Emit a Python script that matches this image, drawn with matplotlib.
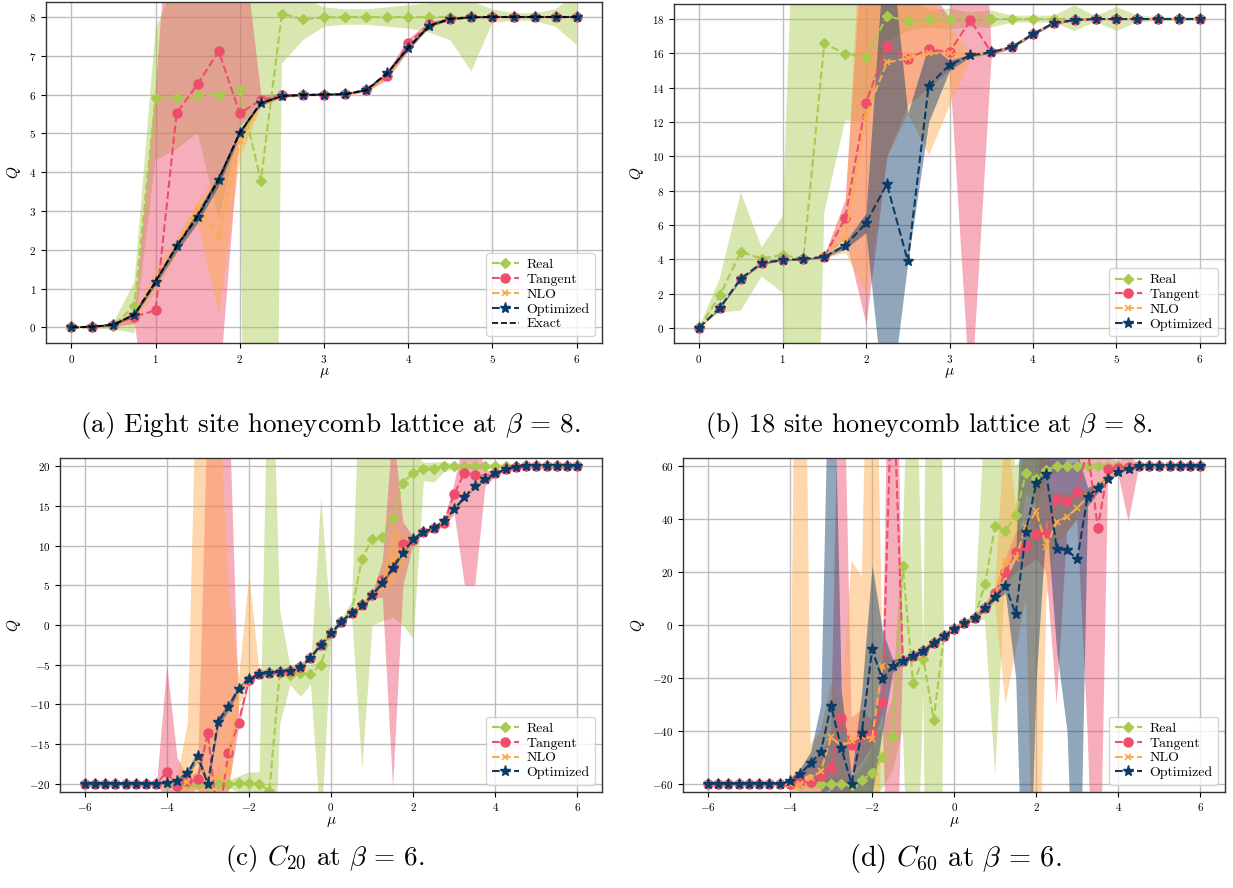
import numpy as np
import matplotlib
matplotlib.use('Agg')
import matplotlib.pyplot as plt

plt.rcParams.update({
    'font.family': 'serif', 'font.serif': ['cmr10'], 'mathtext.fontset': 'cm',
    'axes.unicode_minus': False, 'axes.formatter.use_mathtext': True,
})

# ---------------- data ----------------
mu_ab = [0, 0.25, 0.5, 0.75, 1, 1.25, 1.5, 1.75, 2, 2.25, 2.5, 2.75, 3, 3.25, 3.5, 3.75,
         4, 4.25, 4.5, 4.75, 5, 5.25, 5.5, 5.75, 6]
mu_cd = [-6, -5.75, -5.5, -5.25, -5, -4.75, -4.5, -4.25, -4, -3.75, -3.5, -3.25, -3, -2.75,
         -2.5, -2.25, -2, -1.75, -1.5, -1.25, -1, -0.75, -0.5, -0.25, 0, 0.25, 0.5, 0.75,
         1, 1.25, 1.5, 1.75, 2, 2.25, 2.5, 2.75, 3, 3.25, 3.5, 3.75, 4, 4.25, 4.5, 4.75,
         5, 5.25, 5.5, 5.75, 6]

# (a) eight site honeycomb
a_exact = [0, 0.02, 0.07, 0.33, 1.18, 2.09, 2.88, 3.82, 5.02, 5.78, 5.96, 5.99, 6.0, 6.01, 6.11, 6.55, 7.21, 7.78, 7.95, 7.99, 8, 8, 8, 8, 8]
a_real = [0, 0.01, 0.05, 0.56, 5.92, 5.92, 5.98, 6.0, 6.12, 3.78, 8.09, 7.94, 7.99, 8, 8, 8, 8, 8, 8, 8, 8, 8, 8, 8, 8]
a_real_lo = [-0.02, -0.03, -0.05, -0.15, 4.3, 4.6, 5.0, 2.8, 5.0, -40, 6.8, 7.4, 7.75, 7.8, 7.8, 7.75, 7.7, 7.6, 7.4, 6.6, 7.85, 7.9, 7.9, 7.75, 7.28]
a_real_hi = [0.02, 0.04, 0.12, 1.18, 7.68, 9.0, 8.9, 9.2, 9.0, 50, 9.4, 8.5, 8.25, 8.2, 8.2, 8.25, 8.3, 8.35, 8.4, 8.4, 8.2, 8.1, 8.1, 8.2, 8.6]
a_tan = [0, 0.02, 0.07, 0.28, 0.44, 5.52, 6.27, 7.12, 5.52, 5.86, 5.98, 5.99, 6.0, 6.01, 6.12, 6.48, 7.32, 7.82, 7.96, 8, 8, 8, 8, 8, 8]
a_tan_lo = [0, 0.0, 0.03, 0.1, -4, -4, -4, -1.6, 5.2, 5.7, 5.93, 5.97, 5.98, 5.99, 6.08, 6.38, 7.15, 7.74, 7.93, 7.98, 8, 8, 8, 8, 8]
a_tan_hi = [0, 0.04, 0.1, 0.45, 6.2, 13.8, 14, 14, 10.6, 6.0, 6.03, 6.01, 6.02, 6.03, 6.16, 6.6, 7.45, 7.88, 7.98, 8, 8, 8, 8, 8, 8]
a_nlo = [0, 0.02, 0.07, 0.33, 1.2, 2.1, 3.1, 2.35, 4.8, 5.8, 5.96, 6.0, 6.0, 6.01, 6.1, 6.5, 7.2, 7.8, 7.95, 8, 8, 8, 8, 8, 8]
a_nlo_lo = [0, 0.0, 0.04, 0.2, 0.9, 1.9, 2.68, 0.33, 4.4, 5.7, 5.93, 5.97, 5.98, 5.99, 6.06, 6.42, 7.12, 7.74, 7.92, 7.98, 8, 8, 8, 8, 8]
a_nlo_hi = [0, 0.04, 0.1, 0.45, 1.5, 2.3, 3.29, 3.97, 5.0, 5.86, 6.0, 6.02, 6.02, 6.03, 6.14, 6.58, 7.28, 7.84, 7.97, 8, 8, 8, 8, 8, 8]
a_opt = [0, 0.02, 0.07, 0.33, 1.18, 2.09, 2.84, 3.8, 5.02, 5.78, 5.97, 5.99, 6.0, 6.01, 6.12, 6.55, 7.2, 7.78, 7.95, 7.99, 8, 8, 8, 8, 8]
a_opt_lo = [0, 0.01, 0.05, 0.28, 1.1, 1.95, 2.7, 3.65, 4.95, 5.74, 5.95, 5.98, 5.99, 6.0, 6.09, 6.5, 7.15, 7.75, 7.93, 7.98, 8, 8, 8, 8, 8]
a_opt_hi = [0, 0.03, 0.09, 0.38, 1.26, 2.2, 3.0, 3.95, 5.1, 5.82, 5.99, 6.0, 6.01, 6.02, 6.14, 6.6, 7.26, 7.81, 7.97, 8, 8, 8, 8, 8, 8]

# (b) 18 site honeycomb
b_real = [0, 1.89, 4.43, 4.04, 4.24, 4.04, 16.58, 15.98, 15.76, 18.16, 17.9, 17.98, 18, 18.02, 18, 18, 18, 18, 18, 18, 18, 18, 18, 18, 18]
b_real_lo = [0, 0.9, 1.0, 3.0, 2.05, -40, 6.7, 12.1, 12.0, 16.7, 17.3, 17.5, 17.4, 17.5, 17.5, 17.8, 17.8, 17.8, 17.3, 17.85, 17.3, 17.8, 17.9, 17.9, 17.9]
b_real_hi = [0, 2.9, 7.9, 4.7, 6.5, 40, 40, 40, 25, 20, 19.5, 18.5, 18.6, 18.4, 18.5, 18.2, 18.2, 18.2, 18.8, 18.15, 18.7, 18.2, 18.1, 18.1, 18.1]
b_tan = [0, 1.17, 2.87, 3.77, 3.96, 4.0, 4.14, 6.39, 13.13, 16.45, 15.68, 16.25, 16.07, 17.93, 16.07, 16.37, 17.13, 17.77, 17.94, 18, 18, 18, 18, 18, 18]
b_tan_lo = [0, 1.12, 2.8, 3.7, 3.92, 3.97, 4.05, 5.3, 0.2, 10, 13, 14, 15, -4.5, 15.9, 16.3, 17.05, 17.7, 17.9, 17.98, 18, 18, 18, 18, 18]
b_tan_hi = [0, 1.22, 2.94, 3.84, 4.0, 4.03, 4.25, 7.5, 26, 30, 21, 20, 18, 40, 16.2, 16.44, 17.2, 17.84, 17.98, 18.02, 18, 18, 18, 18, 18]
b_nlo = [0, 1.17, 2.87, 3.77, 3.96, 4.0, 4.14, 5.2, 12.4, 15.47, 15.72, 16.0, 16.0, 15.88, 16.07, 16.37, 17.13, 17.77, 17.94, 18, 18, 18, 18, 18, 18]
b_nlo_lo = [0, 1.12, 2.8, 3.7, 3.92, 3.97, 4.05, 4.4, 2.0, 10, 12.5, 10.1, 13, 15.7, 16.0, 16.3, 17.05, 17.7, 17.9, 17.98, 18, 18, 18, 18, 18]
b_nlo_hi = [0, 1.22, 2.94, 3.84, 4.0, 4.03, 4.25, 7.0, 29.5, 30, 20.5, 19.3, 17.6, 16.1, 16.14, 16.44, 17.2, 17.84, 17.98, 18.02, 18, 18, 18, 18, 18]
b_opt = [0, 1.17, 2.87, 3.77, 3.96, 4.0, 4.14, 4.79, 6.11, 8.38, 3.9, 14.1, 15.33, 15.88, 16.07, 16.37, 17.13, 17.77, 17.94, 18, 18, 18, 18, 18, 18]
b_opt_lo = [0, 1.12, 2.8, 3.7, 3.92, 3.97, 4.08, 4.6, 5.55, -6, 3.8, 12.0, 15.0, 15.8, 16.0, 16.3, 17.05, 17.7, 17.9, 17.98, 18, 18, 18, 18, 18]
b_opt_hi = [0, 1.22, 2.94, 3.84, 4.0, 4.03, 4.2, 5.0, 6.7, 24.4, 12.5, 16.5, 15.6, 15.95, 16.14, 16.44, 17.2, 17.84, 17.98, 18.02, 18, 18, 18, 18, 18]

# (c) C20
c_real = [-20, -20, -20, -20, -20, -20, -20, -20, -20, -20.1, -20, -20, -20, -20, -20, -19.9, -19.9, -20, -20.9,
          -6.1, -6.3, -6.1, -6.2, -5.0, -1.05, 0.42, 1.55, 8.3, 10.8, 11.05, 13.45, 17.85, 19.2, 19.6, 19.7, 20.0,
          20, 20, 20, 20, 20, 20, 20, 20, 20, 20, 20, 20, 20]
c_real_lo = [-20, -20, -20, -20, -20, -20, -20, -20, -20.3, -20.5, -20.4, -20.5, -20.5, -20.5, -20.5, -21, -21, -21.5, -45,
             -12.4, -7.5, -9, -7.5, -26, -1.5, 0.1, 1.2, -18, 0, 0.5, 1, 0, -1.7, 18.2, 18.0, 19.3,
             19.7, 19.7, 19.7, 19.7, 19.7, 19.7, 19.7, 19.7, 19.7, 19.7, 19.7, 19.7, 19.7]
c_real_hi = [-20, -20, -20, -20, -20, -20, -20, -20, -19.7, -19.7, -19.6, -19.5, -19.5, -19.5, -19.5, -19, -18.5, -18.5, 45,
             1.9, -5.2, -4.5, -5.2, 16.2, -0.6, 0.8, 3.0, 40, 35, 30, 30, 30, 22, 20.5, 20.5, 20.6,
             20.3, 20.3, 20.3, 20.3, 20.3, 20.3, 20.3, 20.3, 20.3, 20.3, 20.3, 20.3, 20.3]
c_tan = [-20, -20, -20, -20, -20, -20, -20, -20, -18.5, -20.3, -19.7, -19.45, -13.65, -25, -16.1, -12.3, -6.9, -6.2, -6.0,
         -5.9, -5.75, -5.25, -4.1, -2.5, -1.05, 0.42, 1.55, 2.48, 3.74, 5.7, 7.3, 10.2, 10.7, 11.7, 12.2, 12.8,
         16.5, 19.2, 18.9, 18.5, 19.1, 19.6, 19.9, 20, 20, 20, 20, 20, 20]
c_tan_lo = [-20, -20, -20, -20, -20, -20, -20, -20, -22, -21.5, -21.5, -20.5, -25, -40, -20.5, -12.8, -7.3, -6.4, -6.2,
            -6.1, -5.95, -5.45, -4.3, -2.7, -1.25, 0.2, 1.35, 2.2, 3.4, 3.5, -20.5, 5, 10.3, 11.4, 11.9, 12.4,
            14, 5, 5, 17.5, 18.7, 19.4, 19.8, 20, 20, 20, 20, 20, 20]
c_tan_hi = [-20, -20, -20, -20, -20, -20, -20, -20, -5, -16.7, -19, -18.4, 30, 40, 30, -11.5, -6.5, -6.0, -5.8,
            -5.7, -5.55, -5.05, -3.9, -2.3, -0.85, 0.6, 1.75, 2.8, 4.1, 8, 25, 13, 11.1, 12.0, 12.5, 13.3,
            18, 24, 24, 19.5, 19.5, 19.8, 20, 20, 20, 20, 20, 20, 20]
c_nlo = [-20, -20, -20, -20, -20, -20, -20, -20, -19.9, -19.7, -19.8, -17.0, -19.5, -19.2, -18.3, -8.2, -7.1, -6.2, -6.0,
         -5.9, -5.75, -5.25, -4.1, -2.5, -1.05, 0.42, 1.55, 2.48, 3.74, 5.5, 8.0, 9.3, 10.8, 11.76, 12.18, 13.15,
         14.6, 16.1, 17.5, 18.4, 19.1, 19.6, 19.9, 20, 20, 20, 20, 20, 20]
c_nlo_lo = [-20, -20, -20, -20, -20, -20, -20, -20, -20.2, -21, -21, -25, -30, -25, -21, -10, -7.5, -6.5, -6.2,
            -6.1, -5.95, -5.45, -4.3, -2.7, -1.25, 0.2, 1.35, 2.2, 3.4, 4.5, 5, 7.5, 10.5, 11.5, 11.9, 12.9,
            14.3, 15.8, 17.2, 18.1, 18.9, 19.4, 19.8, 20, 20, 20, 20, 20, 20]
c_nlo_hi = [-20, -20, -20, -20, -20, -20, -20, -20, -19.6, -19, -12.4, 40, 40, 30, 4.4, -6.5, 6.5, -5.9, -5.8,
            -5.7, -5.55, -5.05, -3.9, -2.3, -0.85, 0.6, 1.75, 2.8, 4.1, 6.5, 13, 11, 11.1, 12.0, 12.5, 13.4,
            14.9, 16.4, 17.8, 18.7, 19.3, 19.8, 20, 20, 20, 20, 20, 20, 20]
c_opt = [-20, -20, -20, -20, -20, -20, -20, -20, -19.9, -19.6, -18.7, -16.5, -20, -12.2, -10.3, -8.0, -6.8, -6.2, -6.0,
         -5.9, -5.75, -5.25, -4.1, -2.5, -1.05, 0.42, 1.55, 2.48, 3.74, 5.34, 7.14, 9.12, 10.8, 11.76, 12.18, 13.15,
         14.6, 16.1, 17.5, 18.4, 19.1, 19.6, 19.9, 20, 20, 20, 20, 20, 20]
c_opt_lo = [-20, -20, -20, -20, -20, -20, -20, -20, -20.1, -19.9, -19.1, -17.2, -20.3, -12.8, -10.8, -8.4, -7.1, -6.4, -6.2,
            -6.1, -5.95, -5.45, -4.3, -2.7, -1.25, 0.2, 1.35, 2.25, 3.5, 5.1, 6.9, 8.9, 10.6, 11.55, 12.0, 12.95,
            14.4, 15.9, 17.3, 18.2, 18.95, 19.5, 19.85, 20, 20, 20, 20, 20, 20]
c_opt_hi = [-20, -20, -20, -20, -20, -20, -20, -20, -19.7, -19.3, -18.3, -15.8, -19.7, -11.6, -9.8, -7.6, -6.5, -6.0, -5.8,
            -5.7, -5.55, -5.05, -3.9, -2.3, -0.85, 0.6, 1.75, 2.7, 4.0, 5.6, 7.4, 9.35, 11.0, 11.95, 12.35, 13.35,
            14.8, 16.3, 17.7, 18.6, 19.25, 19.7, 19.95, 20, 20, 20, 20, 20, 20]

# (d) C60
d_real = [-60, -60, -60, -60, -60, -60, -60, -60, -60, -60.2, -60, -60, -60, -60, -60.5, -58.6, -56.1, -49.8, -41.9,
          22.4, -22.0, -12.8, -35.9, -4.2, -1.5, 0.6, 2.8, 15.4, 37.6, 35.5, 41.4, 57.6, 55.0, 58.7,
          60, 60, 60, 60, 60, 60, 60, 60, 60, 60, 60, 60, 60, 60, 60]
d_real_lo = [-60, -60, -60, -60, -60, -60, -60, -60, -61, -61.5, -61.5, -62, -62, -62, -63, -63, -65, -62, -55,
             -40, -150, -25, -400, -6, -2, 0, 1.5, 2, -57, 20, 25, 50, 45, 55,
             58, 59, 59, 59, 59, 59, 59, 59, 59.5, 59.5, 59.5, 59.5, 59.5, 59.5, 59.5]
d_real_hi = [-60, -60, -60, -60, -60, -60, -60, -60, -59, -59, -58.5, -58, -58, -58, -58, -54, -47, -38, -28,
             35, 150, -8, 400, -2.5, -1, 1.2, 4, 80, 90, 80, 60, 65, 65, 62,
             62, 61, 61, 61, 61, 61, 61, 61, 60.5, 60.5, 60.5, 60.5, 60.5, 60.5, 60.5]
d_tan = [-60, -60, -60, -60, -60, -60, -60, -60, -60, -59.1, -59.5, -57, -54.2, -35, -45.5, -42, -41.2, -29.2, 100,
         -13.5, -11.7, -9.8, -6.9, -4.2, -1.5, 0.6, 2.8, 6.3, 12, 19.9, 27.5, 30, 34.4, 34.6, 47.6, 46.9,
         50.1, 67, 36.8, 58.9, 59.5, 59.8, 60, 60, 60, 60, 60, 60, 60]
d_tan_lo = [-60, -60, -60, -60, -60, -60, -60, -60, -62, -63, -64, -64, -62, -150, -56, -52, -46, -34, -150,
            -15, -13, -11, -8, -5.2, -2.4, -0.3, 1.8, 5, 10, 15, 20, 22, 25, 20, -30, 35,
            40, -40, -150, 55, 57, 39, 59, 60, 60, 60, 60, 60, 60]
d_tan_hi = [-60, -60, -60, -60, -60, -60, -60, -60, -58, -55, -52, -48, -42, 150, -35, -32, -36, -24, 200,
            -12, -10.5, -8.6, -5.8, -3.2, -0.6, 1.5, 3.8, 7.6, 14, 25, 35, 38, 45, 100, 90, 60,
            62, 150, 90, 63, 62, 64, 61, 60, 60, 60, 60, 60, 60]
d_nlo = [-60, -60, -60, -60, -60, -60, -60, -60, -60, -60, -58, -55.2, -42.5, -45.5, -44, -42, -43, -15.5, -15.5,
         -13.5, -11.7, -9.8, -6.9, -4.2, -1.5, 0.6, 2.8, 6.3, 11, 24, 25.2, 37.2, 42.9, 29.6, 39, 40.9,
         44.3, 48.4, 51.8, 55.3, 57.9, 59.1, 60, 60, 60, 60, 60, 60, 60]
d_nlo_lo = [-60, -60, -60, -60, -60, -60, -60, -60, -61, -300, -62, -64, -58, -60, -70, -70, -200, -25, -17,
            -15, -13, -11, -8, -5.2, -2.4, -0.3, 1.8, 5, 8, -30, -10, 10, -150, 10, 30, 35,
            40, 46, 50, 54, 57, 58.5, 60, 60, 60, 60, 60, 60, 60]
d_nlo_hi = [-60, -60, -60, -60, -60, -60, -60, -60, -59, 300, -45, -40, -22, -30, 24.5, 18, 200, -8, -14,
            -12, -10.5, -8.6, -5.8, -3.2, -0.6, 1.5, 3.8, 7.6, 14, 80, 45, 70, 150, 50, 50, 50,
            50, 51, 54, 57, 59, 59.8, 60, 60, 60, 60, 60, 60, 60]
d_opt = [-60, -60, -60, -60, -60, -60, -60, -60, -59.1, -56.2, -52.3, -47.9, -30.5, -46.4, -60, -40.7, -9.2, -20.5, -15.5,
         -13.5, -11.7, -9.8, -6.9, -4.2, -1.5, 0.6, 2.8, 6.3, 10.7, 14.7, 4.2, 35.3, 53.5, 56.9, 28.7, 28.3,
         24.9, 48.4, 51.8, 55.3, 57.9, 59.1, 60, 60, 60, 60, 60, 60, 60]
d_opt_lo = [-60, -60, -60, -60, -60, -60, -60, -60, -60.5, -58, -56, -62, -150, -65, -63, -64, -64, -40, -18,
            -14.5, -12.5, -10.5, -7.5, -4.8, -2, 0, 2.2, 5.5, 9.5, 12, -20, -150, -20, 40, -10, -40,
            -150, 45, 50, 54.5, 57.5, 58.8, 60, 60, 60, 60, 60, 60, 60]
d_opt_hi = [-60, -60, -60, -60, -60, -60, -60, -60, -58, -54, -48, -30, 150, -25, -57, -25, 22.6, -2, -13,
            -12.5, -11, -9, -6.3, -3.6, -1, 1.2, 3.4, 7, 12, 17, 25, 150, 100, 80, 70, 70,
            65, 52, 53.5, 56, 58.3, 59.4, 60, 60, 60, 60, 60, 60, 60]

captions = [r"(a) Eight site honeycomb lattice at $\beta$ = 8.",
            r"(b) 18 site honeycomb lattice at $\beta$ = 8.",
            r"(c) $C_{20}$ at $\beta$ = 6.",
            r"(d) $C_{60}$ at $\beta$ = 6."]

# ---------------- style ----------------
C_REAL = '#a9c94f'
C_TAN = '#ee4d6c'
C_NLO = '#fdaa48'
C_OPT = '#0b3b68'
ALPHA = 0.45

fig = plt.figure(figsize=(12.33, 8.88), dpi=100)
W, H = 1233.0, 888.0
def rect(l, t, r, b):
    return [l / W, 1 - b / H, (r - l) / W, (b - t) / H]

axA = fig.add_axes(rect(46, 1.5, 602, 343))
axB = fig.add_axes(rect(674, 3.6, 1225, 343.3))
axC = fig.add_axes(rect(60, 458.3, 602, 791.7))
axD = fig.add_axes(rect(683.3, 458.3, 1225, 791.7))

def draw(ax, mu, real, tan, nlo, opt, exact=None):
    specs = [(real, C_REAL, 'D', 5.5, 'Real', {}),
             (tan, C_TAN, 'o', 6.5, 'Tangent', {}),
             (nlo, C_NLO, 'x', 5, 'NLO', {'mew': 1.2}),
             (opt, C_OPT, '*', 8, 'Optimized', {})]
    for (y, lo, hi), col, mk, ms, lab, kw in specs:
        ax.plot(mu, y, ls='--', color=col, marker=mk, ms=ms, lw=1.5, label=lab, **kw)
        ax.fill_between(mu, lo, hi, color=col, alpha=ALPHA, lw=0)
    if exact is not None:
        ax.plot(mu, exact, ls='--', color='black', lw=1.2, label='Exact')
    ax.grid(True, color='#bdbdbd', lw=1.0)
    ax.set_axisbelow(True)
    ax.set_xlabel(r'$\mu$', fontsize=11, labelpad=1)
    ax.set_ylabel(r'$Q$', fontsize=11, labelpad=4)
    ax.tick_params(labelsize=8)
    for s in ax.spines.values():
        s.set_color('#333333')
        s.set_linewidth(1.0)
    ax.legend(loc='lower right', fontsize=10, labelspacing=0.15, handlelength=2.0,
              borderpad=0.4, handletextpad=0.5, fancybox=True, framealpha=0.8)

draw(axA, mu_ab, (a_real, a_real_lo, a_real_hi), (a_tan, a_tan_lo, a_tan_hi),
     (a_nlo, a_nlo_lo, a_nlo_hi), (a_opt, a_opt_lo, a_opt_hi), a_exact)
axA.set_xlim(-0.3, 6.3); axA.set_ylim(-0.4, 8.4)
axA.set_xticks([0, 1, 2, 3, 4, 5, 6]); axA.set_yticks([0, 1, 2, 3, 4, 5, 6, 7, 8])

draw(axB, mu_ab, (b_real, b_real_lo, b_real_hi), (b_tan, b_tan_lo, b_tan_hi),
     (b_nlo, b_nlo_lo, b_nlo_hi), (b_opt, b_opt_lo, b_opt_hi))
axB.set_xlim(-0.3, 6.3); axB.set_ylim(-0.9, 18.9)
axB.set_xticks([0, 1, 2, 3, 4, 5, 6]); axB.set_yticks([0, 2, 4, 6, 8, 10, 12, 14, 16, 18])

draw(axC, mu_cd, (c_real, c_real_lo, c_real_hi), (c_tan, c_tan_lo, c_tan_hi),
     (c_nlo, c_nlo_lo, c_nlo_hi), (c_opt, c_opt_lo, c_opt_hi))
axC.set_xlim(-6.6, 6.6); axC.set_ylim(-21, 21)
axC.set_xticks([-6, -4, -2, 0, 2, 4, 6]); axC.set_yticks([-20, -15, -10, -5, 0, 5, 10, 15, 20])

draw(axD, mu_cd, (d_real, d_real_lo, d_real_hi), (d_tan, d_tan_lo, d_tan_hi),
     (d_nlo, d_nlo_lo, d_nlo_hi), (d_opt, d_opt_lo, d_opt_hi))
axD.set_xlim(-6.6, 6.6); axD.set_ylim(-63, 63)
axD.set_xticks([-6, -4, -2, 0, 2, 4, 6]); axD.set_yticks([-60, -40, -20, 0, 20, 40, 60])

cap_pos = [(330, 425), (929, 425), (325, 858), (955, 858)]
cap_size = [19.5, 18.8, 19.5, 20.5]
for txt, (x, y), fs in zip(captions, cap_pos, cap_size):
    fig.text(x / W, 1 - y / H, txt, ha='center', va='center', fontsize=fs)

fig.savefig('out.png', dpi=100)
